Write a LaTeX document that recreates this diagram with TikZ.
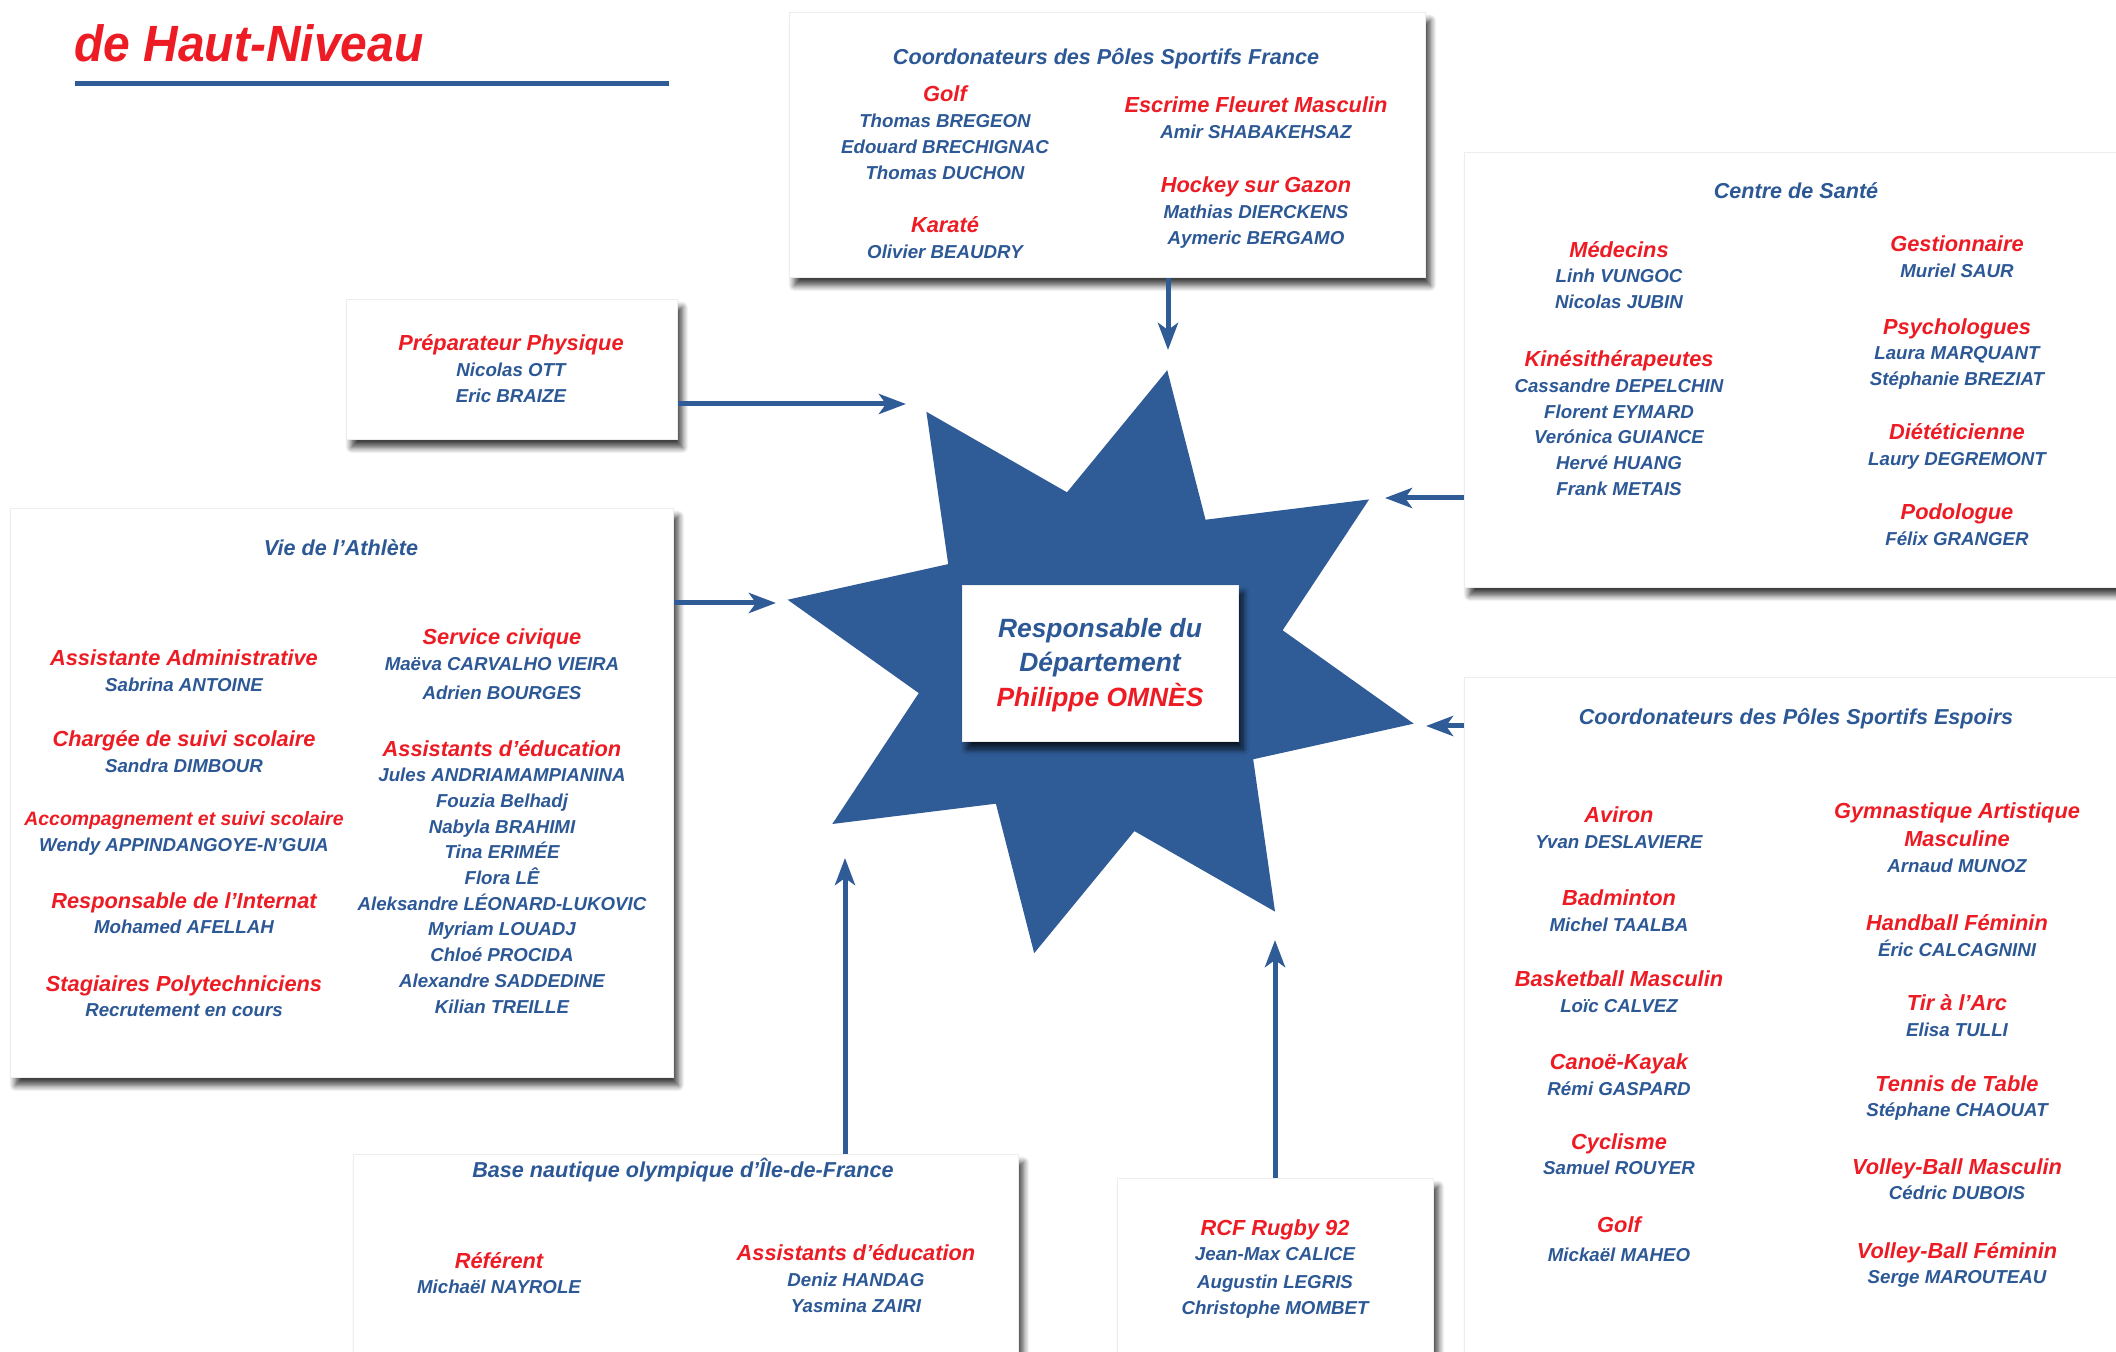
\documentclass[tikz,border=0pt]{standalone}
\usepackage{fontspec}
\setmainfont{Liberation Sans}
\newfontfamily\titrefont{Liberation Sans}[FakeStretch=0.94]
\usetikzlibrary{arrows.meta,shapes.geometric,shadows.blur}

\definecolor{tblue}{RGB}{44,88,150}
\definecolor{tred}{RGB}{237,28,36}
\definecolor{starblue}{RGB}{47,91,150}

\newcommand\nmfont{\fontsize{9.35pt}{12.85pt}\selectfont\bfseries\itshape}
\newcommand\ttfont{\fontsize{10.8pt}{13pt}\selectfont\bfseries\itshape}
\newcommand\rub[1]{{\color{tred}\fontsize{10.9pt}{12.85pt}\selectfont #1}}
\newcommand\rubp[1]{{\color{tred}\fontsize{9.7pt}{12.85pt}\selectfont #1}}

\begin{document}
\begin{tikzpicture}[x=0.5pt,y=-0.5pt]
\tikzstyle{box}=[draw=black!7, line width=0.4pt, fill=white, inner sep=0pt, anchor=north west,
  blur shadow={shadow xshift=2.5pt, shadow yshift=-4pt, shadow blur radius=3pt, shadow blur steps=8, shadow opacity=75}]
\tikzstyle{grp}=[align=center, anchor=base, inner sep=0pt, text=tblue, font=\nmfont]
\tikzstyle{ttl}=[anchor=base, inner sep=0pt, text=tblue, font=\ttfont]
\tikzstyle{arr}=[draw=starblue, line width=2.5pt, -{Stealth[length=13.5pt,width=10pt,inset=3.5pt]}]

\useasboundingbox (0,0) rectangle (2116,1352);

% titre
\node[anchor=base west, inner sep=0pt, text=tred, font=\titrefont\fontsize{25.5pt}{30pt}\selectfont\bfseries\itshape] (titre) at (74,62) {de Haut-Niveau};
\draw[starblue, line width=2.5pt] (75,83.5) -- (669,83.5);

% etoile
\begin{scope}[shift={(1100.7,661.7)}, xscale=1.074]
\node[star, star points=8, star point ratio=1.73, minimum size=298pt, inner sep=0pt, fill=starblue, shape border rotate=-12, transform shape] (etoile) at (0,0) {};
\end{scope}
\node[box, anchor=center, minimum width=138pt, minimum height=78pt] (resp) at (1100,663) {};
% (base = derniere ligne)
\node[grp, font=\fontsize{13.2pt}{17.5pt}\selectfont\bfseries\itshape] (respT) at (1100,707) {Responsable du\\Département\\\textcolor{tred}{Philippe OMNÈS}};

% poles France
\node[box, minimum width=318pt, minimum height=132.5pt] (fra) at (789,12) {};
\node[ttl] (fraT) at (1106,65) {Coordonateurs des Pôles Sportifs France};
\node[grp] (golfF) at (945,179.1) {\rub{Golf}\\Thomas BREGEON\\Edouard BRECHIGNAC\\Thomas DUCHON};
\node[grp] (karate) at (945,258.7) {\rub{Karaté}\\Olivier BEAUDRY};
\node[grp] (escrime) at (1256,138.7) {\rub{Escrime Fleuret Masculin}\\Amir SHABAKEHSAZ};
\node[grp] (hockey) at (1256,244.4) {\rub{Hockey sur Gazon}\\Mathias DIERCKENS\\Aymeric BERGAMO};

% preparateur
\node[box, minimum width=165.5pt, minimum height=70pt] (prep) at (346,299) {};
\node[grp] (prepT) at (511,402.4) {\rub{Préparateur Physique}\\Nicolas OTT\\Eric BRAIZE};

% vie de l'athlete
\node[box, minimum width=331.5pt, minimum height=284.5pt] (vie) at (10,508) {};
\node[ttl] (vieT) at (341,556) {Vie de l’Athlète};
\node[grp] (assist) at (184,691.3) {\rub{Assistante Administrative}\\Sabrina ANTOINE};
\node[grp] (charge) at (184,772.2) {\rub{Chargée de suivi scolaire}\\Sandra DIMBOUR};
\node[grp] (accomp) at (184,851.3) {\rubp{Accompagnement et suivi scolaire}\\Wendy APPINDANGOYE-N’GUIA};
\node[grp] (internat) at (184,933.7) {\rub{Responsable de l’Internat}\\Mohamed AFELLAH};
\node[grp] (stag) at (184,1016.7) {\rub{Stagiaires Polytechniciens}\\Recrutement en cours};
\node[grp] (civique) at (502,699.2) {\rub{Service civique}\\Maëva CARVALHO VIEIRA\\[1.4pt]Adrien BOURGES};
\node[grp] (educ) at (502,1013) {\rub{Assistants d’éducation}\\Jules ANDRIAMAMPIANINA\\Fouzia Belhadj\\Nabyla BRAHIMI\\Tina ERIMÉE\\Flora LÊ\\Aleksandre LÉONARD-LUKOVIC\\Myriam LOUADJ\\Chloé PROCIDA\\Alexandre SADDEDINE\\Kilian TREILLE};

% centre de sante
\node[box, minimum width=333pt, minimum height=217.5pt] (sante) at (1464,152) {};
\node[ttl] (santeT) at (1796,199) {Centre de Santé};
\node[grp] (medecins) at (1619,308.7) {\rub{Médecins}\\Linh VUNGOC\\Nicolas JUBIN};
\node[grp] (kine) at (1619,495.2) {\rub{Kinésithérapeutes}\\Cassandre DEPELCHIN\\Florent EYMARD\\Verónica GUIANCE\\Hervé HUANG\\Frank METAIS};
\node[grp] (gest) at (1957,277.4) {\rub{Gestionnaire}\\Muriel SAUR};
\node[grp] (psy) at (1957,385.7) {\rub{Psychologues}\\Laura MARQUANT\\Stéphanie BREZIAT};
\node[grp] (diet) at (1957,465.7) {\rub{Diététicienne}\\Laury DEGREMONT};
\node[grp] (podo) at (1957,545.7) {\rub{Podologue}\\Félix GRANGER};

% poles espoirs
\node[box, minimum width=333pt, minimum height=346.5pt] (esp) at (1464,677) {};
\node[ttl] (espT) at (1796,725) {Coordonateurs des Pôles Sportifs Espoirs};
\node[grp] (aviron) at (1619,848.1) {\rub{Aviron}\\Yvan DESLAVIERE};
\node[grp] (badminton) at (1619,931.5) {\rub{Badminton}\\Michel TAALBA};
\node[grp] (basket) at (1619,1012.3) {\rub{Basketball Masculin}\\Loïc CALVEZ};
\node[grp] (canoe) at (1619,1095.2) {\rub{Canoë-Kayak}\\Rémi GASPARD};
\node[grp] (cyclisme) at (1619,1174.7) {\rub{Cyclisme}\\Samuel ROUYER};
\node[grp] (golfE) at (1619,1261.1) {\rub{Golf}\\[1.5pt]Mickaël MAHEO};
\node[grp] (gym) at (1957,872.3) {\rub{Gymnastique Artistique}\\[1pt]\rub{Masculine}\\Arnaud MUNOZ};
\node[grp] (handball) at (1957,956.2) {\rub{Handball Féminin}\\Éric CALCAGNINI};
\node[grp] (tir) at (1957,1036.5) {\rub{Tir à l’Arc}\\Elisa TULLI};
\node[grp] (tennis) at (1957,1116.7) {\rub{Tennis de Table}\\Stéphane CHAOUAT};
\node[grp] (vbm) at (1957,1199.7) {\rub{Volley-Ball Masculin}\\Cédric DUBOIS};
\node[grp] (vbf) at (1957,1283.7) {\rub{Volley-Ball Féminin}\\Serge MAROUTEAU};

% base nautique
\node[box, minimum width=332.5pt, minimum height=108pt] (naut) at (353,1154) {};
\node[ttl] (nautT) at (683,1177) {Base nautique olympique d’Île-de-France};
\node[grp] (referent) at (499,1293.7) {\rub{Référent}\\Michaël NAYROLE};
\node[grp] (assE) at (856,1312.1) {\rub{Assistants d’éducation}\\Deniz HANDAG\\Yasmina ZAIRI};

% rugby
\node[box, minimum width=158pt, minimum height=96pt] (rug) at (1117,1178) {};
\node[grp] (rugT) at (1275,1314.1) {\rub{RCF Rugby 92}\\Jean-Max CALICE\\[1pt]Augustin LEGRIS\\Christophe MOMBET};

% fleches
\coordinate (pFra) at (1168,350);
\coordinate (pPrep) at (906,404);
\coordinate (pVie) at (776,603);
\coordinate (pSante) at (1385,498);
\coordinate (pEsp) at (1426,726);
\coordinate (pNaut) at (845,858);
\coordinate (pRug) at (1275,940);
\draw[arr] (fra.south -| pFra) -- (pFra);
\draw[arr] (prep.east |- pPrep) -- (pPrep);
\draw[arr] (vie.east |- pVie) -- (pVie);
\draw[arr] (sante.west |- pSante) -- (pSante);
\draw[arr] (esp.west |- pEsp) -- (pEsp);
\draw[arr] (naut.north -| pNaut) -- (pNaut);
\draw[arr] (rug.north -| pRug) -- (pRug);
\end{tikzpicture}
\end{document}
